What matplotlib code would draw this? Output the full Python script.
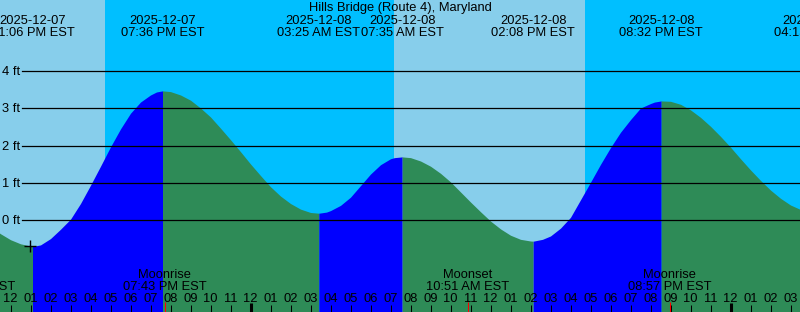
import numpy as np
import matplotlib.pyplot as plt

# tide heights (ft), hours since 2025-12-07 00:00 EST
TIDE_HOURS = [11.0, 11.5, 12.0, 12.5, 13.0, 13.1,
              13.5, 14.0, 14.5, 15.0, 15.5, 16.0, 16.5, 17.0, 17.5, 18.0, 18.5, 19.0, 19.3, 19.6,
              20.0, 20.5, 21.0, 21.5, 22.0, 22.5, 23.0, 23.5, 24.0, 24.5, 25.0, 25.5, 26.0, 26.5,
              27.0, 27.4167,
              27.8, 28.0, 28.5, 29.0, 29.5, 30.0, 30.5, 31.0, 31.2, 31.583,
              32.0, 32.5, 33.0, 33.5, 34.0, 34.5, 35.0, 35.5, 36.0, 36.5, 37.0, 37.5, 38.0, 38.133,
              38.6, 39.0, 39.5, 40.0, 40.5, 41.0, 41.5, 42.0, 42.5, 43.0, 43.5, 44.0, 44.2, 44.533,
              45.0, 45.5, 46.0, 46.5, 47.0, 47.5, 48.0, 48.5, 49.0, 49.5, 50.0, 50.5, 51.0, 51.5,
              52.0]
TIDE_FEET = [-0.17, -0.36, -0.52, -0.63, -0.69, -0.70,
             -0.66, -0.49, -0.24, 0.03, 0.45, 0.94, 1.45, 1.97, 2.45, 2.87, 3.17, 3.36, 3.44, 3.47,
             3.45, 3.36, 3.22, 3.01, 2.77, 2.47, 2.16, 1.84, 1.51, 1.20, 0.90, 0.65, 0.45, 0.30,
             0.21, 0.19,
             0.22, 0.26, 0.40, 0.62, 0.93, 1.24, 1.49, 1.65, 1.68, 1.70,
             1.68, 1.59, 1.45, 1.26, 1.03, 0.76, 0.49, 0.23, -0.02, -0.23, -0.40, -0.51, -0.555, -0.56,
             -0.51, -0.42, -0.21, 0.08, 0.55, 1.02, 1.50, 1.95, 2.36, 2.70, 3.01, 3.13, 3.17, 3.20,
             3.19, 3.11, 2.96, 2.76, 2.52, 2.25, 1.96, 1.65, 1.35, 1.07, 0.81, 0.59, 0.41, 0.29,
             0.23]

# highs and lows
EXTREME_HOURS = [13.1, 19.6, 27.4167, 31.583, 38.133, 44.533, 52.25]
EXTREME_DATES = ['2025-12-07', '2025-12-07', '2025-12-08', '2025-12-08', '2025-12-08', '2025-12-08', '2025-12-09']
EXTREME_TIMES = ['01:06 PM EST', '07:36 PM EST', '03:25 AM EST', '07:35 AM EST', '02:08 PM EST',
                 '08:32 PM EST', '04:15 AM EST']

# sunrise / sunset
SUNSET_1, SUNRISE_1, SUNSET_2 = 16.725, 31.175, 40.725

# moon events
MOON_HOURS = [10.15, 19.717, 34.85, 44.95]
MOON_NAMES = ['Moonset', 'Moonrise', 'Moonset', 'Moonrise']
MOON_TIMES = ['10:09 AM EST', '07:43 PM EST', '10:51 AM EST', '08:57 PM EST']

NOW_HOUR, NOW_FEET = 12.975, -0.69
GRID_FEET = [0, 1, 2, 3, 4]
TITLE = 'Hills Bridge (Route 4), Maryland'

W, H = 800, 312
X0, X1 = 11.475, 51.475
Y0, Y1 = -2.458, 5.906

DAY = '#87CEEB'
NIGHT = '#00BFFF'
RISING = '#0000FF'
FALLING = '#2E8B57'
FONT = dict(family='Liberation Sans', fontsize=9.3, color='black')


def py(p):
    """pixel row from top -> axes fraction"""
    return 1 - p / H


fig = plt.figure(figsize=(W / 100, H / 100), dpi=100)
ax = fig.add_axes([0, 0, 1, 1])
ax.set_xlim(X0, X1)
ax.set_ylim(Y0, Y1)
ax.axis('off')
xt = ax.get_xaxis_transform()

# day / night background
ax.axvspan(X0 - 1, SUNSET_1, color=DAY, lw=0)
ax.axvspan(SUNSET_1, SUNRISE_1, color=NIGHT, lw=0)
ax.axvspan(SUNRISE_1, SUNSET_2, color=DAY, lw=0)
ax.axvspan(SUNSET_2, X1 + 1, color=NIGHT, lw=0)

# tide fill, split at highs and lows
t = np.array(TIDE_HOURS)
h = np.array(TIDE_FEET)
bounds = [t[0]] + EXTREME_HOURS
for i in range(len(bounds) - 1):
    a, b = bounds[i], bounds[i + 1]
    m = (t >= a) & (t <= b)
    seg_t, seg_h = t[m], h[m]
    if len(seg_t) < 2:
        continue
    rising = seg_h[-1] > seg_h[0]
    ax.fill_between(seg_t, seg_h, Y0 - 1, color=RISING if rising else FALLING, lw=0)

# grid lines and foot labels
for ft in GRID_FEET:
    ax.axhline(ft, xmin=22 / W, xmax=1, color='black', lw=0.9)
    ax.text(2 / W, ft - 0.105, f'{ft} ft', transform=ax.get_yaxis_transform(),
            ha='left', va='baseline', **FONT)

ax.plot(NOW_HOUR, NOW_FEET, marker='+', color='black', ms=8, mew=1)

# title and tide extremes
ax.text(0.5, py(11.3), TITLE, transform=ax.transAxes, ha='center', va='baseline', **FONT)
for x, d, tm in zip(EXTREME_HOURS, EXTREME_DATES, EXTREME_TIMES):
    ax.text(x, py(24), d, transform=xt, ha='center', va='baseline', **FONT)
    ax.text(x, py(35.7), tm, transform=xt, ha='center', va='baseline', **FONT)

# moon events
for x, name, tm in zip(MOON_HOURS, MOON_NAMES, MOON_TIMES):
    ax.text(x, py(278), name, transform=xt, ha='center', va='baseline', **FONT)
    ax.text(x, py(290), tm, transform=xt, ha='center', va='baseline', **FONT)
    ax.vlines(x, py(H), py(301.7), transform=xt, color='red', lw=0.75)

# hour ticks
for hr in range(11, 53):
    lab = f'{(hr % 12) or 12:02d}'
    ax.text(hr, py(301.7), lab, transform=xt, ha='center', va='baseline', **FONT)
    if hr % 24 == 0:
        ax.vlines(hr, py(H), py(303), transform=xt, color='black', lw=2.2)
    else:
        ax.vlines(hr, py(H), py(305), transform=xt, color='black', lw=0.75)

fig.savefig('out.png', dpi=100)
